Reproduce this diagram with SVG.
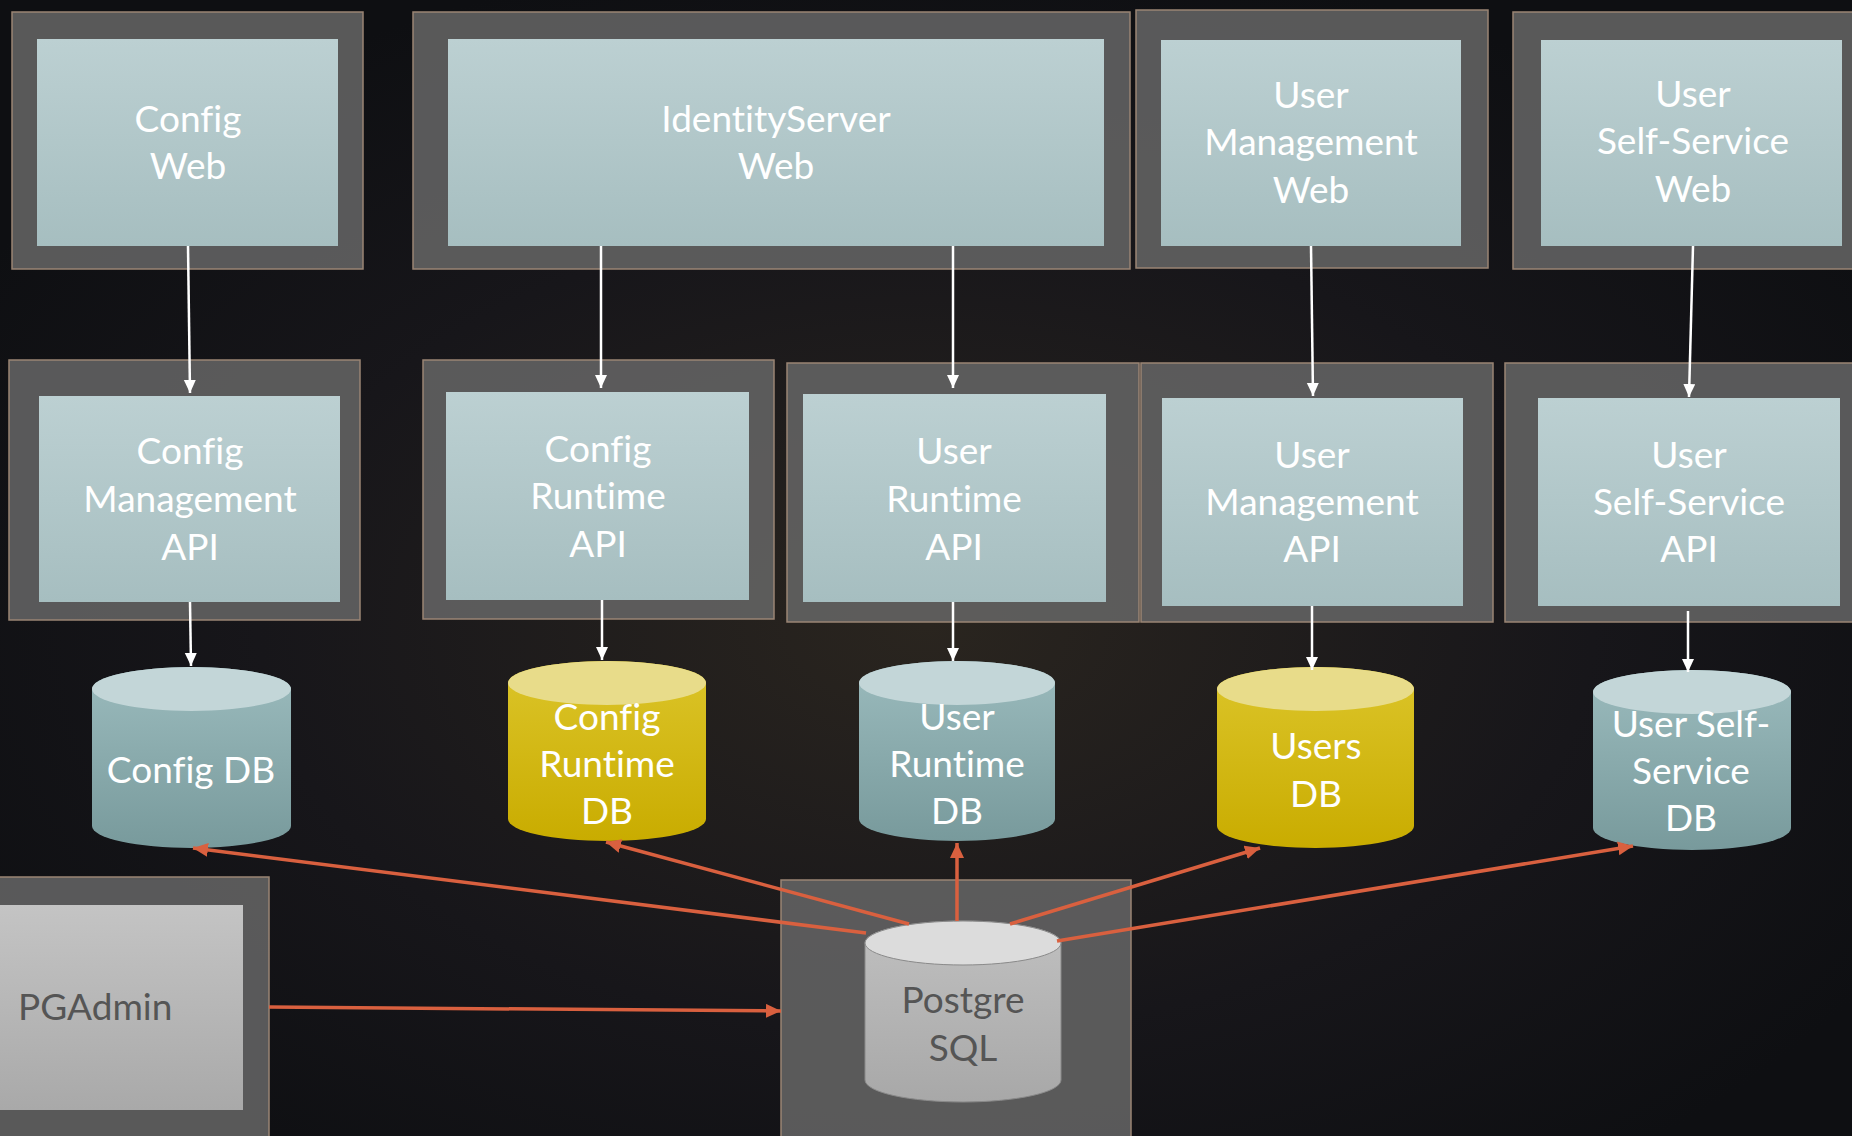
<svg xmlns="http://www.w3.org/2000/svg" width="1852" height="1136" viewBox="0 0 1852 1136">
<defs>
<radialGradient id="bg" cx="0.5" cy="0.55" r="0.6">
<stop offset="0" stop-color="#2a251f"/>
<stop offset="0.6" stop-color="#17161a"/>
<stop offset="1" stop-color="#0e0f12"/>
</radialGradient>
<linearGradient id="inner" x1="0" y1="0" x2="0" y2="1">
<stop offset="0" stop-color="#bcd0d2"/>
<stop offset="1" stop-color="#a6bec0"/>
</linearGradient>
<linearGradient id="tealBody" x1="0" y1="0" x2="0" y2="1">
<stop offset="0" stop-color="#9bbbbd"/>
<stop offset="1" stop-color="#789a9c"/>
</linearGradient>
<linearGradient id="yelBody" x1="0" y1="0" x2="0" y2="1">
<stop offset="0" stop-color="#dcc52a"/>
<stop offset="1" stop-color="#c9ac00"/>
</linearGradient>
<linearGradient id="greyBody" x1="0" y1="0" x2="0" y2="1">
<stop offset="0" stop-color="#c0c0c0"/>
<stop offset="1" stop-color="#a8a8a8"/>
</linearGradient>
<linearGradient id="pgInner" x1="0" y1="0" x2="0" y2="1">
<stop offset="0" stop-color="#c4c4c4"/>
<stop offset="1" stop-color="#a9a9a9"/>
</linearGradient>
<marker id="wa" markerUnits="userSpaceOnUse" markerWidth="14" markerHeight="16" refX="13" refY="6" orient="auto">
<path d="M0,0 L13,6 L0,12 Z" fill="#ffffff"/>
</marker>
<marker id="ra" markerUnits="userSpaceOnUse" markerWidth="16" markerHeight="16" refX="15" refY="7" orient="auto">
<path d="M0,0 L15,7 L0,14 Z" fill="#d9603f"/>
</marker>
</defs>
<style>
.outer{fill:#666666;fill-opacity:0.85;stroke:#9a8574;stroke-width:1.5}
.inner{fill:url(#inner)}
.t{font-family:Lato,"Open Sans",sans-serif;font-size:37px;fill:#ffffff;text-anchor:middle;font-variant-ligatures:none}
.g{fill:#555555}
.tealTop{fill:#c3d6d8}
.teal{fill:url(#tealBody)}
.yelTop{fill:#e8dc8a}
.yel{fill:url(#yelBody)}
.wl{stroke:#ffffff;stroke-width:2.5;fill:none;marker-end:url(#wa)}
.rl{stroke:#d9603f;stroke-width:3.5;fill:none;marker-end:url(#ra)}
</style>
<rect x="0" y="0" width="1852" height="1136" fill="url(#bg)"/>

<g id="config-web">
<rect class="outer" x="12" y="12" width="351" height="257"/>
<rect class="inner" x="37" y="39" width="301" height="207"/>
<text class="t"><tspan x="188" y="132">Config</tspan><tspan x="188" y="179">Web</tspan></text>
</g>
<g id="identityserver-web">
<rect class="outer" x="413" y="12" width="717" height="257"/>
<rect class="inner" x="448" y="39" width="656" height="207"/>
<text class="t"><tspan x="776" y="132">IdentityServer</tspan><tspan x="776" y="179">Web</tspan></text>
</g>
<g id="user-management-web">
<rect class="outer" x="1136" y="10" width="352" height="258"/>
<rect class="inner" x="1161" y="40" width="300" height="206"/>
<text class="t"><tspan x="1311" y="108">User</tspan><tspan x="1311" y="155">Management</tspan><tspan x="1311" y="203">Web</tspan></text>
</g>
<g id="user-self-service-web">
<rect class="outer" x="1513" y="12" width="345" height="257"/>
<rect class="inner" x="1541" y="40" width="301" height="206"/>
<text class="t"><tspan x="1693" y="107">User</tspan><tspan x="1693" y="154">Self-Service</tspan><tspan x="1693" y="202">Web</tspan></text>
</g>

<g id="config-management-api">
<rect class="outer" x="9" y="360" width="351" height="260"/>
<rect class="inner" x="39" y="396" width="301" height="206"/>
<text class="t"><tspan x="190" y="464">Config</tspan><tspan x="190" y="512">Management</tspan><tspan x="190" y="560">API</tspan></text>
</g>
<g id="config-runtime-api">
<rect class="outer" x="423" y="360" width="351" height="259"/>
<rect class="inner" x="446" y="392" width="303" height="208"/>
<text class="t"><tspan x="598" y="462">Config</tspan><tspan x="598" y="509">Runtime</tspan><tspan x="598" y="557">API</tspan></text>
</g>
<g id="user-runtime-api">
<rect class="outer" x="787" y="363" width="352" height="259"/>
<rect class="inner" x="803" y="394" width="303" height="208"/>
<text class="t"><tspan x="954" y="464">User</tspan><tspan x="954" y="512">Runtime</tspan><tspan x="954" y="560">API</tspan></text>
</g>
<g id="user-management-api">
<rect class="outer" x="1141" y="363" width="352" height="259"/>
<rect class="inner" x="1162" y="398" width="301" height="208"/>
<text class="t"><tspan x="1312" y="468">User</tspan><tspan x="1312" y="515">Management</tspan><tspan x="1312" y="562">API</tspan></text>
</g>
<g id="user-self-service-api">
<rect class="outer" x="1505" y="363" width="353" height="259"/>
<rect class="inner" x="1538" y="398" width="302" height="208"/>
<text class="t"><tspan x="1689" y="468">User</tspan><tspan x="1689" y="515">Self-Service</tspan><tspan x="1689" y="562">API</tspan></text>
</g>

<g id="config-db">
<path class="teal" d="M92,689 V826 A99.5,22 0 0 0 291,826 V689 A99.5,22 0 0 0 92,689 Z"/>
<ellipse class="tealTop" cx="191.5" cy="689" rx="99.5" ry="22"/>
<text class="t" x="191" y="783">Config DB</text>
</g>
<g id="config-runtime-db">
<path class="yel" d="M508,683 V819 A99,22 0 0 0 706,819 V683 A99,22 0 0 0 508,683 Z"/>
<ellipse class="yelTop" cx="607" cy="683" rx="99" ry="22"/>
<text class="t"><tspan x="607" y="730">Config</tspan><tspan x="607" y="777">Runtime</tspan><tspan x="607" y="824">DB</tspan></text>
</g>
<g id="user-runtime-db">
<path class="teal" d="M859,683 V819 A98,22 0 0 0 1055,819 V683 A98,22 0 0 0 859,683 Z"/>
<ellipse class="tealTop" cx="957" cy="683" rx="98" ry="22"/>
<text class="t"><tspan x="957" y="730">User</tspan><tspan x="957" y="777">Runtime</tspan><tspan x="957" y="824">DB</tspan></text>
</g>
<g id="users-db">
<path class="yel" d="M1217,689 V826 A98.5,22 0 0 0 1414,826 V689 A98.5,22 0 0 0 1217,689 Z"/>
<ellipse class="yelTop" cx="1315.5" cy="689" rx="98.5" ry="22"/>
<text class="t"><tspan x="1316" y="759">Users</tspan><tspan x="1316" y="807">DB</tspan></text>
</g>
<g id="user-self-service-db">
<path class="teal" d="M1593,692 V828 A99,22 0 0 0 1791,828 V692 A99,22 0 0 0 1593,692 Z"/>
<ellipse class="tealTop" cx="1692" cy="692" rx="99" ry="22"/>
<text class="t"><tspan x="1691" y="737">User Self-</tspan><tspan x="1691" y="784">Service</tspan><tspan x="1691" y="831">DB</tspan></text>
</g>

<g id="postgresql">
<rect class="outer" x="781" y="880" width="350" height="262" fill-opacity="0.6"/>
<path d="M865,943 V1080 A98,22 0 0 0 1061,1080 V943 A98,22 0 0 0 865,943 Z" fill="url(#greyBody)" stroke="#8a8a8a" stroke-width="1"/>
<ellipse cx="963" cy="943" rx="98" ry="22" fill="#dcdcdc" stroke="#8a8a8a" stroke-width="1"/>
<text class="t g"><tspan x="963" y="1013">Postgre</tspan><tspan x="963" y="1061">SQL</tspan></text>
</g>

<g id="pgadmin">
<rect class="outer" x="-5" y="877" width="274" height="265"/>
<rect x="-2" y="905" width="245" height="205" fill="url(#pgInner)"/>
<text class="t g" x="18" y="1020" style="text-anchor:start">PGAdmin</text>
</g>

<g id="connectors">
<line class="wl" x1="188" y1="246" x2="190" y2="393"/>
<line class="wl" x1="601" y1="246" x2="601" y2="388"/>
<line class="wl" x1="953" y1="246" x2="953" y2="388"/>
<line class="wl" x1="1311" y1="246" x2="1313" y2="396"/>
<line class="wl" x1="1693" y1="246" x2="1689" y2="397"/>
<line class="wl" x1="190" y1="602" x2="191" y2="666"/>
<line class="wl" x1="602" y1="600" x2="602" y2="660"/>
<line class="wl" x1="953" y1="602" x2="953" y2="661"/>
<line class="wl" x1="1312" y1="606" x2="1312" y2="670"/>
<line class="wl" x1="1688" y1="611" x2="1688" y2="672"/>
<line class="rl" x1="866" y1="933" x2="193" y2="848"/>
<line class="rl" x1="909" y1="924" x2="606" y2="842"/>
<line class="rl" x1="957" y1="921" x2="957" y2="843"/>
<line class="rl" x1="1010" y1="924" x2="1260" y2="848"/>
<line class="rl" x1="1057" y1="941" x2="1633" y2="846"/>
<line class="rl" x1="269" y1="1007" x2="781" y2="1011"/>
</g>
</svg>
